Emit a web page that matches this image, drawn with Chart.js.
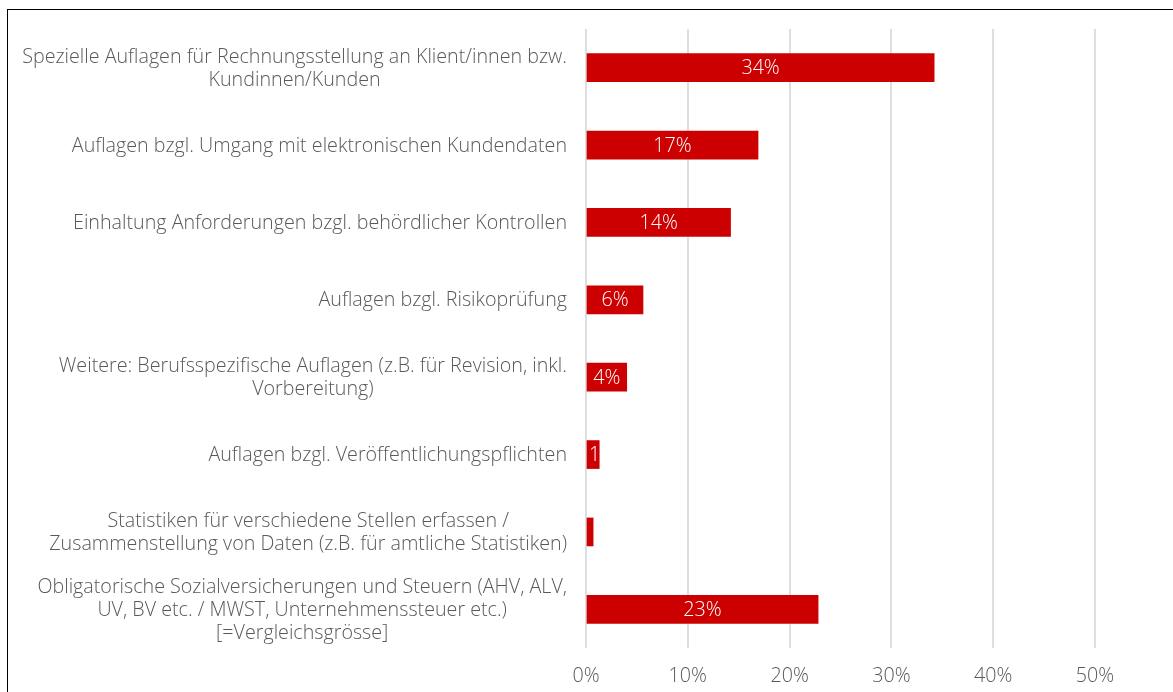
<!DOCTYPE html>
<html>
<head>
<meta charset="utf-8">
<script src="https://cdn.jsdelivr.net/npm/chart.js@4/dist/chart.umd.min.js"></script>
<style>
html,body{margin:0;padding:0;background:#fff;}
#wrap{position:relative;width:1173px;height:692px;overflow:hidden;}
#frame{position:absolute;left:7px;top:9px;width:1300px;height:800px;border-left:1px solid #000;border-top:1px solid #000;}
canvas{position:absolute;left:0;top:0;}
</style>
</head>
<body>
<div id="wrap"><div id="frame"></div><canvas id="chart" width="1173" height="692"></canvas></div>
<script>
// categories (wrapped as in the original)
const categories = [
  ["Spezielle Auflagen für Rechnungsstellung an Klient/innen bzw.", "Kundinnen/Kunden"],
  ["Auflagen bzgl. Umgang mit elektronischen Kundendaten"],
  ["Einhaltung Anforderungen bzgl. behördlicher Kontrollen"],
  ["Auflagen bzgl. Risikoprüfung"],
  ["Weitere: Berufsspezifische Auflagen (z.B. für Revision, inkl.", "Vorbereitung)"],
  ["Auflagen bzgl. Veröffentlichungspflichten"],
  ["Statistiken für verschiedene Stellen erfassen /", "Zusammenstellung von Daten (z.B. für amtliche Statistiken)"],
  ["Obligatorische Sozialversicherungen und Steuern (AHV, ALV,", "UV, BV etc. / MWST, Unternehmenssteuer etc.)", "[=Vergleichsgrösse]"]
];

// share in percent
const shares = [34.2, 16.9, 14.2, 5.6, 4.0, 1.3, 0.7, 22.8];

// x axis
const xMin = 0;
const xMax = 50;
const xStep = 10;

const FONT_SIZE = 19.7;
const FONT = "300 " + FONT_SIZE + "px 'Open Sans', sans-serif";
const TEXT_COLOR = "#595959";
const BAR_COLOR = "#cc0000";

// -----------------------------
// category labels, right aligned block, lines centered
// -----------------------------
const catLabels = {
  id: "catLabels",
  afterDraw(chart) {
    const ctx = chart.ctx;
    const y = chart.scales.y;
    const right = chart.chartArea.left - 19;
    const lineH = 23;
    ctx.save();
    ctx.font = FONT;
    ctx.fillStyle = TEXT_COLOR;
    ctx.textAlign = "center";
    ctx.textBaseline = "middle";
    categories.forEach((lines, i) => {
      const w = Math.max(...lines.map(l => ctx.measureText(l).width));
      const cx = right - w / 2;
      const cy = y.getPixelForValue(i);
      lines.forEach((l, k) => {
        ctx.fillText(l, cx, cy + (k - (lines.length - 1) / 2) * lineH + 1);
      });
    });
    ctx.restore();
  }
};

// -----------------------------
// value labels inside bars (clipped to the bar)
// -----------------------------
const barLabels = {
  id: "barLabels",
  afterDatasetsDraw(chart) {
    const ctx = chart.ctx;
    const meta = chart.getDatasetMeta(0);
    ctx.save();
    ctx.font = FONT;
    ctx.fillStyle = "#ffffff";
    ctx.textBaseline = "middle";
    meta.data.forEach((bar, i) => {
      const v = shares[i];
      if (v < 1) return;
      const txt = Math.round(v) + "%";
      const p = bar.getProps(["x", "y", "base", "height"], true);
      const w = p.x - p.base;
      const tw = ctx.measureText(txt).width;
      ctx.save();
      ctx.beginPath();
      ctx.rect(p.base, p.y - p.height / 2, w, p.height);
      ctx.clip();
      if (tw + 4 > w) {
        ctx.textAlign = "left";
        ctx.fillText(txt, p.base + 2, p.y + 1);
      } else {
        ctx.textAlign = "center";
        ctx.fillText(txt, (p.base + p.x) / 2, p.y + 1);
      }
      ctx.restore();
    });
    ctx.restore();
  }
};

new Chart(document.getElementById("chart").getContext("2d"), {
  type: "bar",
  data: {
    labels: categories,
    datasets: [{
      data: shares,
      backgroundColor: BAR_COLOR,
      borderWidth: 0,
      barThickness: 28
    }]
  },
  options: {
    indexAxis: "y",
    responsive: false,
    animation: false,
    layout: { padding: { top: 29, right: 78, left: 0, bottom: 0 } },
    plugins: { legend: { display: false }, tooltip: { enabled: false } },
    scales: {
      y: {
        ticks: { display: false },
        grid: { display: false },
        border: { display: false },
        afterFit(scale) { scale.width = 586; }
      },
      x: {
        min: xMin,
        max: xMax,
        ticks: {
          stepSize: xStep,
          color: TEXT_COLOR,
          font: { family: "'Open Sans', sans-serif", size: FONT_SIZE, weight: 300 },
          padding: 17,
          callback: v => v + "%"
        },
        grid: { color: "#dedede", lineWidth: 2, drawTicks: false },
        border: { display: false },
        afterFit(scale) { scale.height = 44; }
      }
    }
  },
  plugins: [catLabels, barLabels]
});
</script>
</body>
</html>
